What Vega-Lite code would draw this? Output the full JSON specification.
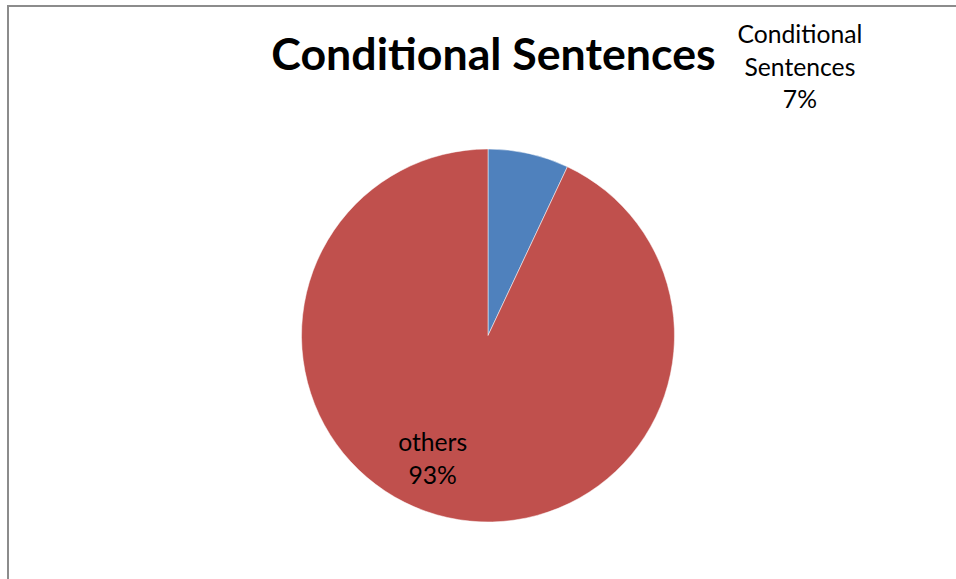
{
  "$schema": "https://vega.github.io/schema/vega-lite/v6.json",
  "width": 960,
  "height": 659,
  "autosize": {"type": "none"},
  "padding": {"left": 8, "top": 6, "right": 0, "bottom": 0},
  "background": "#ffffff",
  "config": {"font": "Lato"},
  "data": {
    "values": [
      {"category": "Conditional Sentences", "value": 7},
      {"category": "others", "value": 93}
    ]
  },
  "layer": [
    {
      "data": {"values": [{"frame": "chart area"}]},
      "mark": {"type": "rect", "fill": null, "stroke": "#8c8c8c", "strokeWidth": 2},
      "encoding": {}
    },
    {
      "transform": [
        {"calculate": "replace(datum.category, ' ', '\\n') + '\\n' + datum.value + '%'", "as": "label"}
      ],
      "encoding": {
        "theta": {"field": "value", "type": "quantitative", "stack": true},
        "order": {"field": "category", "sort": "ascending"}
      },
      "layer": [
        {
          "mark": {"type": "arc", "outerRadius": 186.5, "stroke": "#ffffff", "strokeWidth": 0.5},
          "encoding": {
            "color": {
              "field": "category",
              "type": "nominal",
              "scale": {"domain": ["Conditional Sentences", "others"], "range": ["#4F81BD", "#C0504D"]},
              "legend": null
            }
          }
        },
        {
          "mark": {"type": "text", "radius": 270, "dx": 253, "dy": -36, "fontSize": 24.7, "lineHeight": 32.5, "lineBreak": "\n", "align": "center", "baseline": "middle", "color": "#000000", "font": "Lato"},
          "encoding": {
            "text": {"condition": {"test": "datum.category === 'Conditional Sentences'", "field": "label"}, "value": ""}
          }
        },
        {
          "mark": {"type": "text", "radius": 130, "dx": -27, "dy": -18, "fontSize": 24.7, "lineHeight": 32.5, "lineBreak": "\n", "align": "center", "baseline": "middle", "color": "#000000", "font": "Lato"},
          "encoding": {
            "text": {"condition": {"test": "datum.category === 'others'", "field": "label"}, "value": ""}
          }
        }
      ]
    },
    {
      "data": {"values": [{"title": "Conditional Sentences"}]},
      "mark": {"type": "text", "font": "Lato", "fontSize": 44.7, "fontWeight": "bold", "color": "#000000", "align": "center", "baseline": "alphabetic", "dx": 5.5, "dy": -265.5},
      "encoding": {
        "text": {"field": "title", "type": "nominal"}
      }
    }
  ]
}
